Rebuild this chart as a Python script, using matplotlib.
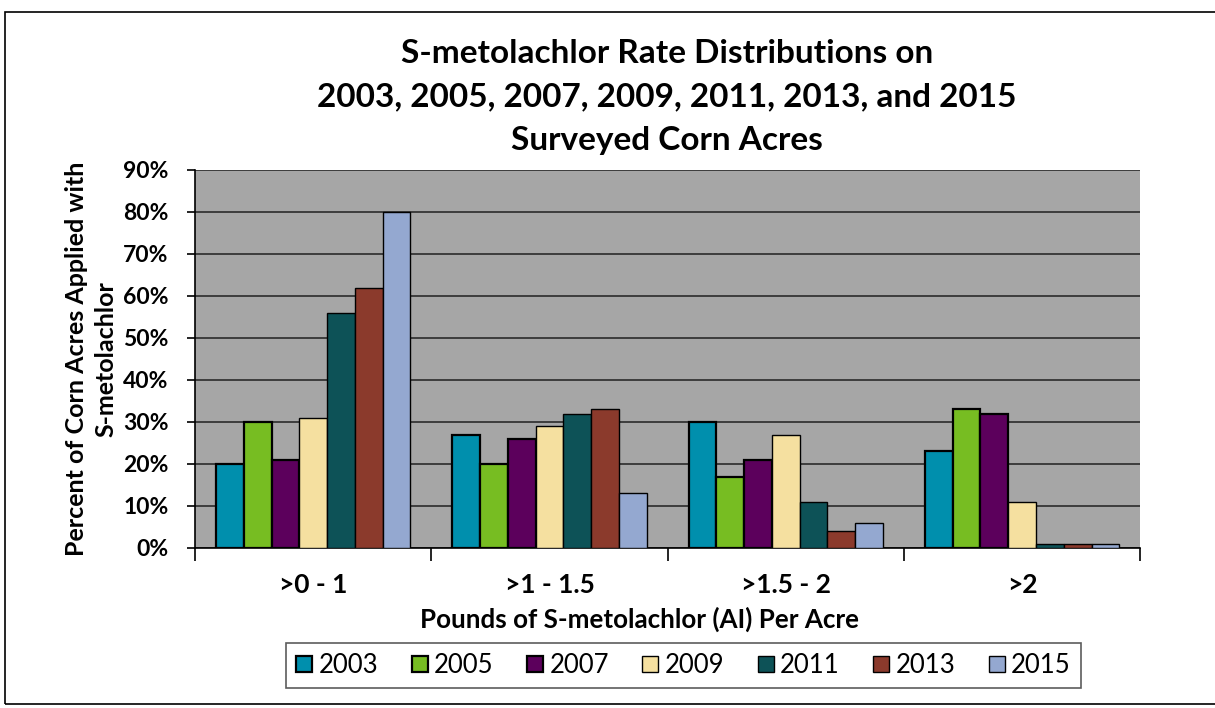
"""
S-metolachlor: rozkład dawek na ankietowanych polach kukurydzy.
"""
import matplotlib
matplotlib.use('Agg')
import matplotlib.pyplot as plt
import numpy as np
from matplotlib.patches import Rectangle
from matplotlib.ticker import PercentFormatter

plt.rcParams['font.family'] = ['Lato', 'DejaVu Sans']

categories = ['>0 - 1', '>1 - 1.5', '>1.5 - 2', '>2']
years = ['2003', '2005', '2007', '2009', '2011', '2013', '2015']
v2003 = [20, 27, 30, 23]
v2005 = [30, 20, 17, 33]
v2007 = [21, 26, 21, 32]
v2009 = [31, 29, 27, 11]
v2011 = [56, 32, 11, 1]
v2013 = [62, 33, 4, 1]
v2015 = [80, 13, 6, 1]
series = [v2003, v2005, v2007, v2009, v2011, v2013, v2015]
colors = ['#008FAD', '#77BD22', '#5C005C', '#F5E0A0', '#0D5257', '#8B3A2C', '#94A8D0']
edge_w = [1.6, 1.6, 1.6, 1.0, 1.0, 1.0, 1.0]

fig = plt.figure(figsize=(12.15, 7.08), dpi=100)
ax = fig.add_axes([0.1605, 0.226, 0.9385 - 0.1605, 0.760 - 0.226])

# ramka wokół całego wykresu
fig.patches.append(Rectangle((5 / 1215, 4 / 708), 1.1, 1 - 16 / 708, transform=fig.transFigure,
                             fill=False, edgecolor='black', linewidth=1.2, zorder=0))

ax.set_facecolor('#A6A6A6')
x = np.arange(len(categories))
w = 0.1175
for i, (vals, c, y) in enumerate(zip(series, colors, years)):
    ax.bar(x + (i - 3) * w, vals, w, color=c, edgecolor='black', linewidth=edge_w[i],
           label=y, zorder=3)

ax.set_xlim(-0.5, 3.5)
ax.set_ylim(0, 90)
ax.set_yticks(range(0, 91, 10))
ax.yaxis.set_major_formatter(PercentFormatter(decimals=0))
ax.grid(axis='y', color='#2b2b2b', linewidth=1.2, zorder=1)
ax.set_xticks(x)
ax.set_xticklabels(categories, fontsize=19, fontweight='bold')
ax.set_xticks(np.arange(-0.5, 4, 1), minor=True)
ax.tick_params(axis='x', which='major', length=0, pad=18)
ax.tick_params(axis='x', which='minor', length=9, width=1.2, direction='out')
ax.tick_params(axis='y', length=6, width=1.2, labelsize=16.5, pad=13)
for lab in ax.get_yticklabels():
    lab.set_fontweight('bold')
for s in ['top', 'right']:
    ax.spines[s].set_visible(False)
ax.spines['left'].set_linewidth(1.2)
ax.spines['bottom'].set_linewidth(1.2)

ax.set_xlabel('Pounds of S-metolachlor (AI) Per Acre', fontsize=18.7, fontweight='bold')
ax.xaxis.set_label_coords(0.470, -0.19)
ax.xaxis.label.set_va('center')
ax.set_ylabel('Percent of Corn Acres Applied with\nS-metolachlor', fontsize=18, fontweight='bold',
              labelpad=4, linespacing=1.35)

fig.text(0.549, 0.863, 'S-metolachlor Rate Distributions on\n2003, 2005, 2007, 2009, 2011, 2013, and 2015\nSurveyed Corn Acres',
         ha='center', va='center', fontsize=24, fontweight='bold', linespacing=1.6)

leg = ax.legend(loc='center', bbox_to_anchor=(0.517, -0.311), ncol=7, fontsize=18.5,
                frameon=True, fancybox=False, edgecolor='#333333', handlelength=0.62,
                handleheight=0.62, handletextpad=0.25, columnspacing=1.3, borderpad=0.4)
leg.get_frame().set_linewidth(1.2)

fig.savefig('out.png', dpi=100)
